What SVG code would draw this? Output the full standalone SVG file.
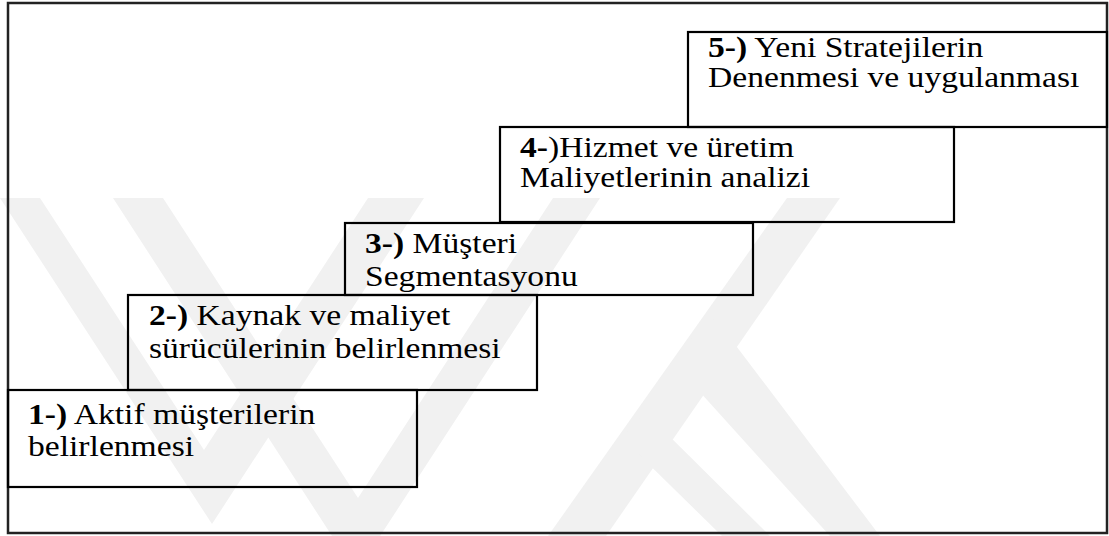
<svg xmlns="http://www.w3.org/2000/svg" width="1109" height="536" viewBox="0 0 1109 536">
  <style>
    .frame { fill: none; stroke: #222; stroke-width: 2.5; }
    .box { fill: none; stroke: #000; stroke-width: 2.2; }
    .wm { fill: #f1f1f1; }
    .t { font-family: "Liberation Serif", "Times New Roman", serif; font-size: 30px; fill: #000; }
    .b { font-weight: bold; }
  </style>
  <rect x="0" y="0" width="1109" height="536" fill="#ffffff"/>
  <g id="watermark">
    <polygon class="wm" points="0,198 40,198 204,450 368,198 424,198 212,524 0,198"/>
    <polygon class="wm" points="113,198 163,198 358,498 553,198 600,198 356,573"/>
    <polygon class="wm" points="787,198 840,198 606,536 548,536"/>
    <polygon class="wm" points="690,340 715,318 880,536 830,536 680,370"/>
    <polygon class="wm" points="622,438 645,412 770,536 722,536"/>
  </g>
  <rect class="frame" x="8" y="3" width="1099" height="530"/>
  <g id="connectors"></g>
  <g id="node1">
    <rect class="box" x="8" y="390" width="409" height="97"/>
    <text class="t" transform="translate(28,424) scale(1.12,1)"><tspan class="b">1-)</tspan> Aktif müşterilerin</text>
    <text class="t" transform="translate(28,456) scale(1.12,1)">belirlenmesi</text>
  </g>
  <g id="node2">
    <rect class="box" x="128" y="295" width="409" height="95"/>
    <text class="t" transform="translate(149,325) scale(1.12,1)"><tspan class="b">2-)</tspan> Kaynak ve maliyet</text>
    <text class="t" transform="translate(149,358) scale(1.12,1)">sürücülerinin belirlenmesi</text>
  </g>
  <g id="node3">
    <rect class="box" x="345" y="223" width="408" height="72"/>
    <text class="t" transform="translate(365,253) scale(1.12,1)"><tspan class="b">3-)</tspan> Müşteri</text>
    <text class="t" transform="translate(365,286) scale(1.12,1)">Segmentasyonu</text>
  </g>
  <g id="node4">
    <rect class="box" x="500" y="127" width="454" height="95"/>
    <text class="t" transform="translate(520,157) scale(1.12,1)"><tspan class="b">4-</tspan>)Hizmet ve üretim</text>
    <text class="t" transform="translate(520,187) scale(1.12,1)">Maliyetlerinin analizi</text>
  </g>
  <g id="node5">
    <rect class="box" x="688" y="32" width="419" height="95"/>
    <text class="t" transform="translate(708,57) scale(1.12,1)"><tspan class="b">5-)</tspan> Yeni Stratejilerin</text>
    <text class="t" transform="translate(708,87) scale(1.12,1)">Denenmesi ve uygulanması</text>
  </g>
</svg>
